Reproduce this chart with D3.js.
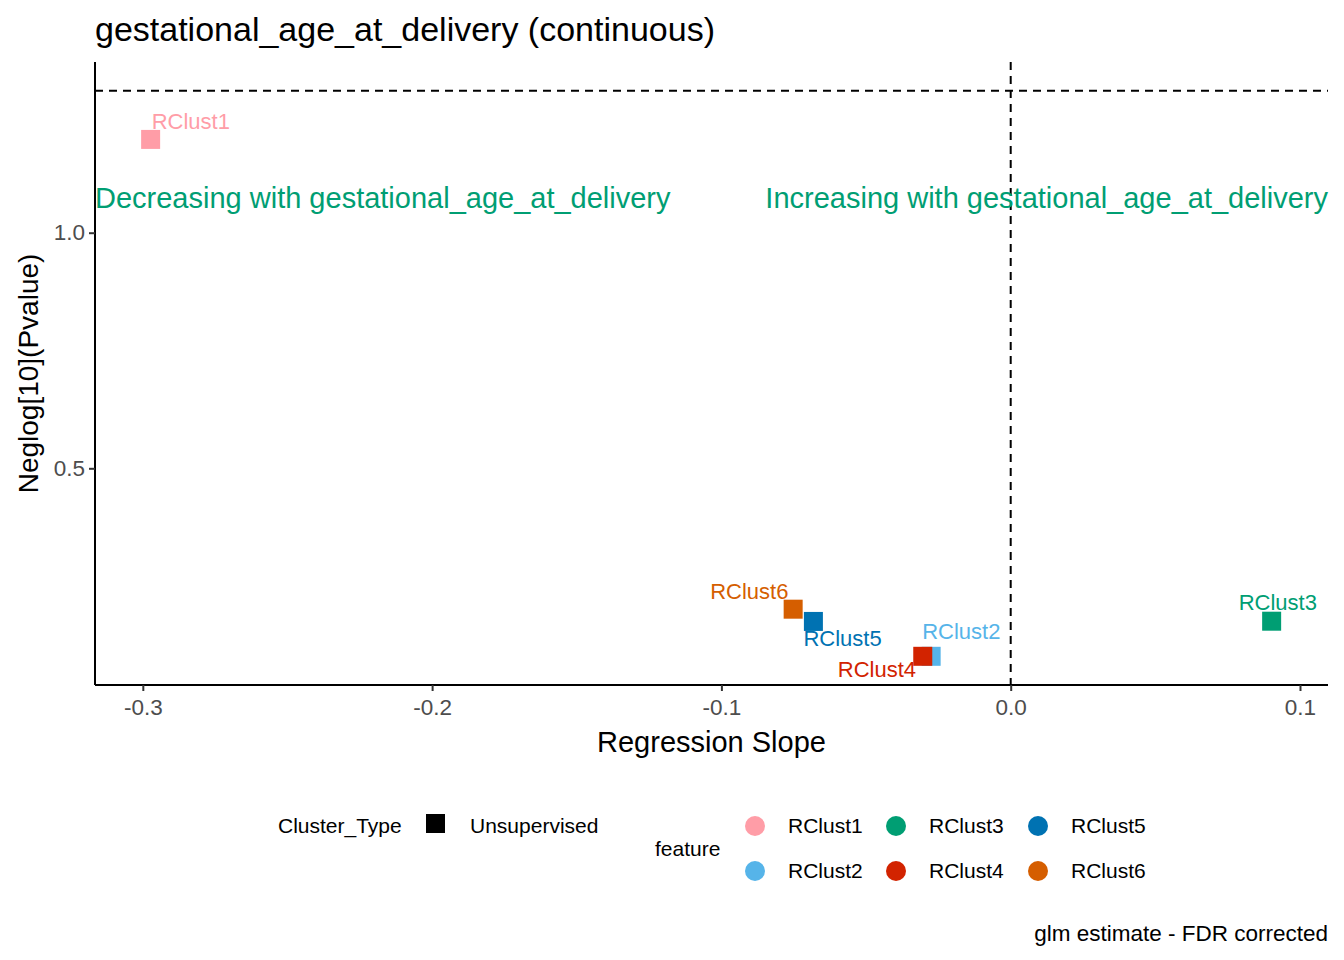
<!DOCTYPE html>
<html>
<head>
<meta charset="utf-8">
<script src="https://cdn.jsdelivr.net/npm/d3@7"></script>
<style>
  body { margin: 0; background: #fff; }
  svg { font-family: "Liberation Sans", Arial, sans-serif; }
</style>
</head>
<body>
<svg id="chart"></svg>
<script>
// data
const features = ["RClust1", "RClust2", "RClust3", "RClust4", "RClust5", "RClust6"];
const slopes = [-0.2973, -0.0275, 0.0902, -0.0304, -0.0682, -0.0752];
const negLogP = [1.198, 0.101, 0.1755, 0.101, 0.175, 0.201];
const colors = ["#FF9DA7", "#56B4E9", "#009E73", "#D22300", "#0072B2", "#D55E00"];
// label offsets (ggrepel-ish) in px from the point, text starts here
const labelDx = [1, -9, -33, -85, -10, -83];
const labelDy = [-18, -25, -19, 13, 17, -18];
const xTicks = [-0.3, -0.2, -0.1, 0.0, 0.1];
const yTicks = [0.5, 1.0];
const pThreshold = -Math.log10(0.05);
const annotY = 1.0745;

// chart dimensions
const width = 1344;
const height = 960;
const marginTop = 62;
const marginRight = 16;
const marginBottom = 275;
const marginLeft = 95;

const svg = d3.select("#chart")
  .attr("width", width)
  .attr("height", height);

const x = d3.scaleLinear([-0.31653, 0.10968], [marginLeft, width - marginRight]);
const y = d3.scaleLinear([0.0401, 1.3623], [height - marginBottom, marginTop]);
const fmt = d => d.toFixed(1);

// title
svg.append("text")
  .attr("x", marginLeft)
  .attr("y", 41)
  .attr("font-size", "34px")
  .attr("fill", "#000")
  .text("gestational_age_at_delivery (continuous)");

// axes
svg.append("g")
  .attr("transform", `translate(0,${height - marginBottom})`)
  .call(d3.axisBottom(x).tickValues(xTicks).tickFormat(fmt).tickSize(6).tickSizeOuter(0))
  .call(g => g.select(".domain").attr("stroke", "#000").attr("stroke-width", 2)
      .attr("d", `M${marginLeft},0H${width - marginRight}`))
  .call(g => g.selectAll(".tick line").attr("stroke", "#333").attr("stroke-width", 2))
  .call(g => g.selectAll(".tick text").attr("fill", "#4D4D4D").attr("font-size", "22.5px")
      .attr("font-family", "Liberation Sans, Arial, sans-serif").attr("dy", "0.95em"));

svg.append("g")
  .attr("transform", `translate(${marginLeft},0)`)
  .call(d3.axisLeft(y).tickValues(yTicks).tickFormat(fmt).tickSize(6).tickSizeOuter(0))
  .call(g => g.select(".domain").attr("stroke", "#000").attr("stroke-width", 2)
      .attr("d", `M0,${marginTop}V${height - marginBottom}`))
  .call(g => g.selectAll(".tick line").attr("stroke", "#333").attr("stroke-width", 2))
  .call(g => g.selectAll(".tick text").attr("fill", "#4D4D4D").attr("font-size", "22.5px")
      .attr("font-family", "Liberation Sans, Arial, sans-serif").attr("x", -10));

// axis titles
svg.append("text")
  .attr("x", (marginLeft + width - marginRight) / 2)
  .attr("y", 752)
  .attr("text-anchor", "middle")
  .attr("font-size", "29px")
  .text("Regression Slope");

svg.append("text")
  .attr("transform", `translate(38,${(marginTop + height - marginBottom) / 2}) rotate(-90)`)
  .attr("text-anchor", "middle")
  .attr("font-size", "28px")
  .text("Neglog[10](Pvalue)");

// reference lines
svg.append("line")
  .attr("x1", marginLeft).attr("x2", width - marginRight)
  .attr("y1", y(pThreshold)).attr("y2", y(pThreshold))
  .attr("stroke", "#000").attr("stroke-width", 2).attr("stroke-dasharray", "8,6");

svg.append("line")
  .attr("x1", x(0)).attr("x2", x(0))
  .attr("y1", marginTop).attr("y2", height - marginBottom)
  .attr("stroke", "#000").attr("stroke-width", 2).attr("stroke-dasharray", "8,6");

// direction annotations
svg.append("text")
  .attr("x", marginLeft)
  .attr("y", y(annotY))
  .attr("dy", "0.35em")
  .attr("fill", "#009E73")
  .attr("font-size", "29px")
  .text("Decreasing with gestational_age_at_delivery");

svg.append("text")
  .attr("x", width - marginRight)
  .attr("y", y(annotY))
  .attr("dy", "0.35em")
  .attr("text-anchor", "end")
  .attr("fill", "#009E73")
  .attr("font-size", "29px")
  .text("Increasing with gestational_age_at_delivery");

// points
const pts = features.map((f, i) => ({ f, sx: slopes[i], sy: negLogP[i], c: colors[i], dx: labelDx[i], dy: labelDy[i] }));
const sq = 19;
svg.append("g")
  .selectAll("rect")
  .data(pts)
  .join("rect")
  .attr("x", d => x(d.sx) - sq / 2)
  .attr("y", d => y(d.sy) - sq / 2)
  .attr("width", sq)
  .attr("height", sq)
  .attr("fill", d => d.c);

svg.append("g")
  .selectAll("text")
  .data(pts)
  .join("text")
  .attr("x", d => x(d.sx) + d.dx)
  .attr("y", d => y(d.sy) + d.dy)
  .attr("dy", "0.35em")
  .attr("fill", d => d.c)
  .attr("font-size", "22px")
  .text(d => d.f);

// legend
const legend = svg.append("g").attr("font-size", "21px");
legend.append("text").attr("x", 278).attr("y", 826).attr("dy", "0.35em").text("Cluster_Type");
legend.append("rect").attr("x", 426).attr("y", 814).attr("width", 19).attr("height", 19).attr("fill", "#000");
legend.append("text").attr("x", 470).attr("y", 826).attr("dy", "0.35em").text("Unsupervised");

legend.append("text").attr("x", 655).attr("y", 849).attr("dy", "0.35em").text("feature");
const colX = [755, 896, 1038];
const rowY = [826, 871];
features.forEach((f, i) => {
  const cx = colX[Math.floor(i / 2)];
  const cy = rowY[i % 2];
  legend.append("circle").attr("cx", cx).attr("cy", cy).attr("r", 10).attr("fill", colors[i]);
  legend.append("text").attr("x", cx + 33).attr("y", cy).attr("dy", "0.35em").text(f);
});

// caption
svg.append("text")
  .attr("x", width - marginRight)
  .attr("y", 933)
  .attr("dy", "0.35em")
  .attr("text-anchor", "end")
  .attr("font-size", "22.5px")
  .text("glm estimate - FDR corrected");
</script>
</body>
</html>
